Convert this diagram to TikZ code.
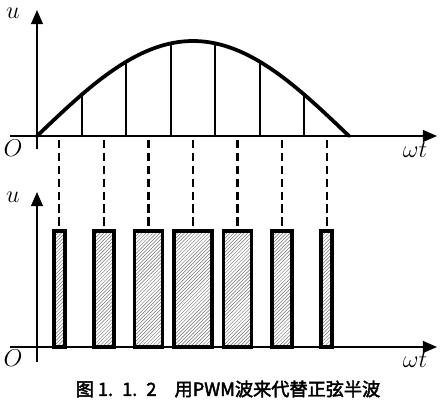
\documentclass[tikz,border=0pt]{standalone}
\usepackage{fontspec}
\newfontfamily\cjk[AutoFakeBold=2.5]{Noto Sans CJK SC}
\usetikzlibrary{arrows.meta,patterns,positioning,calc}

\begin{document}
\begin{tikzpicture}[x=0.03cm, y=0.03cm,
    axis/.style={line width=1.6pt, -{Triangle[length=12pt, width=10pt]}},
    wave/.style={line width=3.2pt, line cap=round},
    tick/.style={line width=1.6pt},
    guide/.style={line width=1.9pt, dash pattern=on 7pt off 4pt},
    pulse/.style={draw, line width=3pt, pattern=north east lines, pattern color=black!55},
    lbl/.style={font=\fontsize{21}{21}\selectfont, inner sep=0pt}
]
    \useasboundingbox (0,0) rectangle (442,407);

    \coordinate (o1) at (37,271);
    \coordinate (o2) at (37,60);

    \draw[axis] (10,271) -- (437,271) coordinate (x1);
    \draw[axis] (37,258) -- (37,397) coordinate (y1);
    \draw[axis] (10,60) -- (437,60) coordinate (x2);
    \draw[axis] (37,45) -- (37,215) coordinate (y2);

    \node[lbl] (u1) at (13,394) {$u$};
    \node[lbl] (O1) at (13,259) {$O$};
    \node[lbl] (wt1) at (415,257) {$\omega t$};
    \node[lbl] (u2) at (13,210) {$u$};
    \node[lbl] (O2) at (13,49) {$O$};
    \node[lbl] (wt2) at (415,47) {$\omega t$};

    \draw[wave] (o1) plot[domain=0:312, samples=80] ({37+\x}, {271+95*sin(\x/312*180)});

    \foreach \k in {1,...,6}
        \draw[tick] ({37+44.57*\k}, 271) -- ({37+44.57*\k}, {271+95*sin(\k*180/7)});

    \foreach \w [count=\k from 0] in {11,20,28,38,28,20,11} {
        \coordinate (c\k) at ({37+44.57*(\k+0.5)}, 60);
        \draw[pulse] ($(c\k)+(-\w/2,0)$) rectangle ($(c\k)+(\w/2,116)$);
        \draw[guide] ($(c\k)+(0,207)$) -- ($(c\k)+(0,118)$);
    }

    \node[font=\cjk\bfseries\fontsize{15.5}{17}\selectfont] (cap) at (228,18) {图 1.\enspace1.\enspace2\quad 用PWM波来代替正弦半波};
\end{tikzpicture}
\end{document}
